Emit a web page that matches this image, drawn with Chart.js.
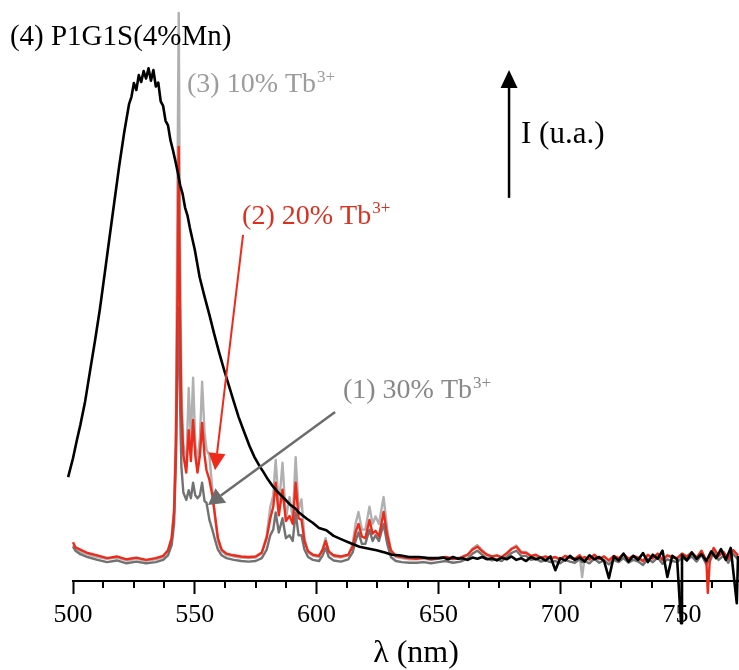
<!DOCTYPE html>
<html>
<head>
<meta charset="utf-8">
<title>Tb3+ / Mn emission spectra</title>
<script src="https://cdn.jsdelivr.net/npm/chart.js@4.4.1/dist/chart.umd.min.js"></script>
<style>
  html, body { margin: 0; padding: 0; background: #fff; }
  #wrap { width: 739px; height: 670px; }
</style>
</head>
<body>
<div id="wrap"><canvas id="spectra" width="739" height="670"></canvas></div>
<script>
// Emission spectra (intensity in arbitrary units, 0-100)

// common wavelength grid of the three Tb3+ samples (nm)
const tbWl = [
  500, 501, 503, 506, 510, 514, 518, 522, 526, 530,
  534, 537, 539, 540.5, 541.5, 542.3, 542.9, 543.4, 543.9, 544.5,
  545.3, 546.5, 547.5, 548.4, 549.3, 550.2, 551.1, 552.1, 553.0, 554.0,
  554.8, 556.0, 557.2, 558.3, 559.5, 561, 563, 566, 569, 572,
  575, 577.5, 579.5, 581, 582.2, 583.2, 584.5, 586, 587.4, 588.9,
  590.2, 591.4, 592.6, 593.8, 595, 596.5, 598.5, 601, 602.5, 603.7,
  605, 607, 610, 613, 614.8, 616, 617.2, 618.6, 620, 621.7,
  623, 624.2, 625.6, 627.5, 629, 630.5, 632.5, 635, 638, 641,
  644, 647, 650, 653, 656, 659, 662, 664, 666, 668,
  670, 672, 674, 676, 678, 680, 682, 684, 686, 688,
  690, 692, 694, 696, 698, 700, 702, 704, 706, 708,
  709, 710, 712, 714, 716, 718, 720, 722, 724, 726,
  728, 730, 732, 734, 736, 738, 740, 742, 744, 746,
  748, 750, 752, 754, 756, 758, 760, 760.6, 761.5, 763,
  765, 767, 769, 771, 773
];

// (3) 10% Tb3+
const tb10 = [
  6.3, 5.7, 5.1, 4.7, 4.2, 3.9, 4.1, 3.6, 3.9, 3.6,
  3.8, 4.2, 5.2, 7.5, 13, 30, 70, 99.5, 60, 33,
  24, 20, 33.8, 24.7, 35.6, 24, 21, 25, 34.9, 26,
  23, 22, 16, 11, 7.0, 5.2, 4.6, 4.3, 4.1, 4.0,
  4.1, 4.8, 8, 13, 15, 21.2, 13, 20.7, 11, 14.7,
  11, 21.7, 12.5, 14.3, 7.5, 5.0, 4.4, 4.2, 5.6, 7.5,
  5.0, 4.3, 4.1, 4.5, 6.5, 10, 12.1, 9, 9, 13.0,
  10, 11.3, 10, 14.7, 9, 5.2, 4.2, 4.0, 3.8, 3.8,
  3.9, 3.7, 3.9, 4.1, 3.8, 4.0, 4.5, 5.7, 6.3, 5.4,
  4.5, 4.2, 4.4, 4.1, 4.9, 5.7, 6.2, 5.1, 5.1, 4.3,
  4.5, 4.0, 4.2, 3.9, 4.1, 3.7, 4.3, 4.0, 3.8, 4.4,
  0.7, 4.1, 3.7, 4.5, 3.8, 4.2, 3.5, 4.3, 3.9, 4.6,
  3.8, 4.3, 4.0, 3.4, 4.5, 3.9, 4.7, 3.6, 4.4, 4.1,
  3.9, 4.7, 4.2, 4.9, 4.0, 5.2, 3.5, 4.0, 4.1, 5.6,
  4.3, 5.0, 3.8, 5.3, 4.4
];

// (2) 20% Tb3+
const tb20 = [
  6.8, 5.9, 5.5, 4.9, 4.5, 4.0, 4.3, 3.8, 4.1, 3.7,
  4.0, 4.4, 5.4, 7.5, 12, 24, 50, 76, 48, 30,
  22, 19, 26.4, 21, 28.2, 22, 19, 22, 27.7, 22,
  19.4, 17.7, 15, 11.5, 7.5, 5.5, 4.8, 4.5, 4.3, 4.2,
  4.3, 5.0, 7.5, 11, 13, 17.2, 11.5, 16, 10.5, 11.4,
  10, 17.2, 11, 10.7, 7, 5.2, 4.6, 4.4, 5.5, 7.0,
  5.2, 4.5, 4.3, 4.6, 6.0, 8.5, 10.0, 7.8, 7.5, 10.7,
  8.3, 8.8, 7.8, 12.1, 8.0, 5.4, 4.4, 4.2, 4.0, 3.9,
  4.1, 3.8, 4.0, 4.2, 3.9, 4.1, 4.6, 5.5, 6.0, 5.2,
  4.6, 4.3, 4.5, 4.2, 4.8, 5.6, 6.0, 5.0, 4.9, 4.4,
  4.6, 4.1, 4.3, 4.0, 4.2, 3.8, 4.4, 4.1, 3.9, 4.5,
  4.0, 4.2, 3.8, 4.6, 3.9, 4.3, 3.6, 4.4, 4.0, 4.7,
  3.9, 4.4, 4.1, 3.5, 4.6, 4.0, 4.8, 3.7, 4.5, 4.2,
  4.0, 4.8, 4.3, 5.0, 4.1, 5.3, 3.6, -2.1, 4.2, 5.8,
  4.4, 5.1, 3.9, 5.4, 4.5
];

// (1) 30% Tb3+
const tb30 = [
  6.0, 5.3, 4.7, 4.2, 3.7, 3.3, 3.6, 3.1, 3.4, 3.1,
  3.3, 3.7, 4.5, 6.3, 10, 22, 40, 48, 32, 20,
  15.5, 14.2, 15.9, 14.5, 17.2, 15, 14.5, 15, 17.2, 14,
  13.7, 10.7, 9.0, 7.2, 5.5, 4.5, 4.0, 3.7, 3.5, 3.4,
  3.5, 4.0, 5.5, 8, 9, 12, 8.5, 11, 7.5, 8.0,
  7.0, 12, 8, 8, 5.5, 4.2, 3.7, 3.5, 4.5, 5.8,
  4.2, 3.6, 3.4, 3.8, 5.0, 7, 8.5, 6.5, 6.5, 9.0,
  7.0, 8.0, 7.0, 10, 6.5, 4.2, 3.5, 3.3, 3.2, 3.2,
  3.3, 3.1, 3.3, 3.5, 3.2, 3.4, 3.9, 4.8, 5.3, 4.6,
  3.9, 3.6, 3.8, 3.5, 4.2, 4.9, 5.3, 4.4, 4.4, 3.7,
  3.9, 3.4, 3.6, 3.3, 3.5, 3.1, 3.7, 3.4, 3.2, 3.8,
  3.3, 3.5, 3.1, 3.9, 3.2, 3.6, 2.9, 3.7, 3.3, 4.0,
  3.2, 3.7, 3.4, 2.8, 3.9, 3.3, 4.1, 3.0, 3.8, 3.5,
  3.3, 4.1, 3.6, 4.3, 3.4, 4.6, 2.9, 3.4, 3.5, 5.0,
  3.7, 4.4, 3.2, 4.7, 3.8
];

// (4) P1G1S(4%Mn) broad band
const mnWl = [
  498, 500, 501.6, 503, 505, 507, 509, 511, 513, 515,
  517, 519, 521, 523, 524, 525, 526, 527, 528, 529,
  530, 531, 532, 533, 534, 535, 536, 537, 538, 539,
  540, 541, 542, 543, 544, 545, 546, 547, 548, 549,
  550, 552, 554, 556, 558, 560, 562, 564, 566, 568,
  570, 572.5, 574.5, 576.6, 578, 580, 582, 584, 587.3, 589,
  591, 593, 596, 598.4, 601, 604, 607, 610.7, 614, 617.6,
  621, 624.6, 628, 631, 634, 638, 642, 646, 650,
  652, 654, 656, 658, 660, 662, 664, 666, 668, 670,
  672, 674, 676, 678, 680, 682, 684, 686, 688, 690,
  692, 694, 696, 698, 700, 702, 704, 706, 708, 710,
  712, 714, 716, 718, 720, 722, 724, 726, 728, 730,
  732, 734, 736, 738, 740, 742, 744, 746, 748, 749.6,
  750, 752, 754, 756, 758, 760, 762, 764, 766, 768,
  770, 772.5, 773
];
const mnBand = [
  18.2, 21.5, 24.7, 27.3, 31.5, 36.8, 42, 47.5, 53.8, 60.2,
  66.5, 72.8, 78.5, 83.5, 84.8, 87.2, 86.0, 88.6, 87.4, 89.3,
  88.0, 89.8, 87.6, 89.5, 86.6, 87.3, 84.0, 83.2, 80.6, 79.8,
  77.2, 75.5, 73.6, 71.6, 69.3, 67.8, 65.4, 64.0, 61.8, 59.9,
  58.0, 53.2, 49.8, 46.6, 43.2, 40.0, 37.0, 34.2, 31.4, 28.7,
  26.4, 23.6, 21.7, 20.1, 19.2, 17.8, 16.6, 15.6, 14.2, 13.4,
  12.8, 11.9, 10.9, 10.2, 9.3, 8.9, 7.9, 7.2, 6.6, 6.0,
  5.7, 5.4, 5.0, 4.6, 4.5, 4.2, 4.2, 4.0, 4.0,
  4.1, 3.8, 4.2, 3.9, 4.0, 3.7, 4.1, 3.9, 4.2, 3.8,
  4.0, 3.6, 4.1, 3.8, 4.3, 3.7, 4.0, 3.5, 4.2, 3.8,
  4.1, 3.6, 4.3, 1.9, 4.0, 3.6, 4.4, 3.7, 4.1, 3.4,
  4.5, 3.8, 4.2, 3.5, 0.5, 4.3, 3.6, 4.8, 3.4, 4.4,
  3.7, 4.9, 3.3, 4.6, 3.9, 5.3, 0.7, 4.4, 3.8, -7.4,
  4.6, 3.6, 5.0, 3.9, 4.7, 3.5, 5.2, 4.0, 5.6, 3.7,
  5.8, -3.9, 4.4
];

// x axis
const xMajor = [500, 550, 600, 650, 700, 750];
const xMin = 500;
const xMax = 773.4;

const serif = '"Liberation Serif", "DejaVu Serif", serif';
const RED = '#ee2a1a';
const LIGHT = '#b0b0b0';
const DARK = '#727272';

// text labels and arrows, placed in data coordinates (nm, intensity)
const notes = [
  { text: '(4) P1G1S(4%Mn)', sup: '', x: 474.1, y: 93.9, color: '#000', size: 29 },
  { text: '(3) 10% Tb', sup: '3+', x: 546.8, y: 85.6, color: '#9c9c9c', size: 28 },
  { text: '(2) 20% Tb', sup: '3+', x: 569.4, y: 62.5, color: '#dd2f1f', size: 28 },
  { text: '(1) 30% Tb', sup: '3+', x: 610.8, y: 32.0, color: '#888888', size: 28 },
  { text: 'I (u.a.)', sup: '', x: 683.9, y: 76.7, color: '#000', size: 31 }
];
const arrows = [
  { from: [569.8, 60.6], to: [558.3, 19.4], color: RED, width: 2, head: 17, headW: 17 },
  { from: [607.6, 29.6], to: [555.4, 13.3], color: '#6c6c6c', width: 2.5, head: 16, headW: 18 },
  { from: [679.0, 67.1], to: [679.0, 89.5], color: '#000', width: 2.5, head: 18, headW: 17 }
];

function toPoints(xs, ys) {
  return xs.map((x, i) => ({ x: x, y: ys[i] }));
}

function drawArrow(ctx, x1, y1, x2, y2, color, width, head, headW) {
  const ang = Math.atan2(y2 - y1, x2 - x1);
  const bx = x2 - head * Math.cos(ang);
  const by = y2 - head * Math.sin(ang);
  ctx.strokeStyle = color;
  ctx.fillStyle = color;
  ctx.lineWidth = width;
  ctx.beginPath();
  ctx.moveTo(x1, y1);
  ctx.lineTo(bx, by);
  ctx.stroke();
  const nx = -Math.sin(ang) * headW / 2;
  const ny = Math.cos(ang) * headW / 2;
  ctx.beginPath();
  ctx.moveTo(x2, y2);
  ctx.lineTo(bx + nx, by + ny);
  ctx.lineTo(bx - nx, by - ny);
  ctx.closePath();
  ctx.fill();
}

const overlay = {
  id: 'overlay',
  afterDraw(chart) {
    const { ctx, chartArea } = chart;
    const x = chart.scales.x;
    const y = chart.scales.y;
    ctx.save();

    // minor ticks, four per major interval
    const step = (xMajor[1] - xMajor[0]) / 4;
    ctx.strokeStyle = '#000';
    ctx.lineWidth = 2;
    for (let v = xMin + step; v < xMax; v += step) {
      if ((v - xMin) % (step * 4) === 0) continue;
      const px = Math.round(x.getPixelForValue(v));
      ctx.beginPath();
      ctx.moveTo(px, chartArea.bottom);
      ctx.lineTo(px, chartArea.bottom + 7);
      ctx.stroke();
    }

    // axis title
    ctx.fillStyle = '#000';
    ctx.textBaseline = 'alphabetic';
    ctx.textAlign = 'center';
    ctx.font = '32px ' + serif;
    ctx.fillText('\u03bb (nm)', (chartArea.left + chartArea.right) / 2 + 10, chartArea.bottom + 81);

    // arrows
    arrows.forEach(a => {
      drawArrow(ctx,
        x.getPixelForValue(a.from[0]), y.getPixelForValue(a.from[1]),
        x.getPixelForValue(a.to[0]), y.getPixelForValue(a.to[1]),
        a.color, a.width, a.head, a.headW);
    });

    // labels with optional superscript
    ctx.textAlign = 'left';
    notes.forEach(n => {
      const px = x.getPixelForValue(n.x);
      const py = y.getPixelForValue(n.y);
      ctx.fillStyle = n.color;
      ctx.font = n.size + 'px ' + serif;
      ctx.fillText(n.text, px, py);
      if (n.sup) {
        const w = ctx.measureText(n.text).width;
        ctx.font = Math.round(n.size * 0.62) + 'px ' + serif;
        ctx.fillText(n.sup, px + w + 1, py - n.size * 0.38);
      }
    });
    ctx.restore();
  }
};

const ctx = document.getElementById('spectra').getContext('2d');
const spectraChart = new Chart(ctx, {
  type: 'line',
  data: {
    datasets: [
      {
        label: '(4) P1G1S(4%Mn)',
        data: toPoints(mnWl, mnBand),
        borderColor: '#000',
        borderWidth: 2.6,
        order: 0
      },
      {
        label: '(2) 20% Tb3+',
        data: toPoints(tbWl, tb20),
        borderColor: RED,
        borderWidth: 2.4,
        order: 1
      },
      {
        label: '(1) 30% Tb3+',
        data: toPoints(tbWl, tb30),
        borderColor: DARK,
        borderWidth: 2.4,
        order: 2
      },
      {
        label: '(3) 10% Tb3+',
        data: toPoints(tbWl, tb10),
        borderColor: LIGHT,
        borderWidth: 2.4,
        order: 3
      }
    ]
  },
  options: {
    responsive: false,
    animation: false,
    events: [],
    layout: { padding: { left: 73, top: 10, right: 0, bottom: 0 } },
    elements: {
      point: { radius: 0 },
      line: { tension: 0, fill: false, borderJoinStyle: 'round' }
    },
    datasets: { line: { clip: false } },
    plugins: {
      legend: { display: false },
      tooltip: { enabled: false },
      title: { display: false }
    },
    scales: {
      x: {
        type: 'linear',
        min: xMin,
        max: xMax,
        afterBuildTicks: s => { s.ticks = xMajor.map(v => ({ value: v })); },
        afterFit: s => { s.height = 89; },
        border: { display: true, color: '#000', width: 2 },
        grid: {
          display: true,
          drawOnChartArea: false,
          drawTicks: true,
          tickLength: 13,
          tickWidth: 2,
          tickColor: '#000'
        },
        ticks: {
          color: '#000',
          padding: 6,
          maxRotation: 0,
          autoSkip: false,
          font: { family: serif, size: 26 }
        }
      },
      y: {
        type: 'linear',
        display: false,
        min: 0,
        max: 100
      }
    }
  },
  plugins: [overlay]
});
</script>
</body>
</html>
